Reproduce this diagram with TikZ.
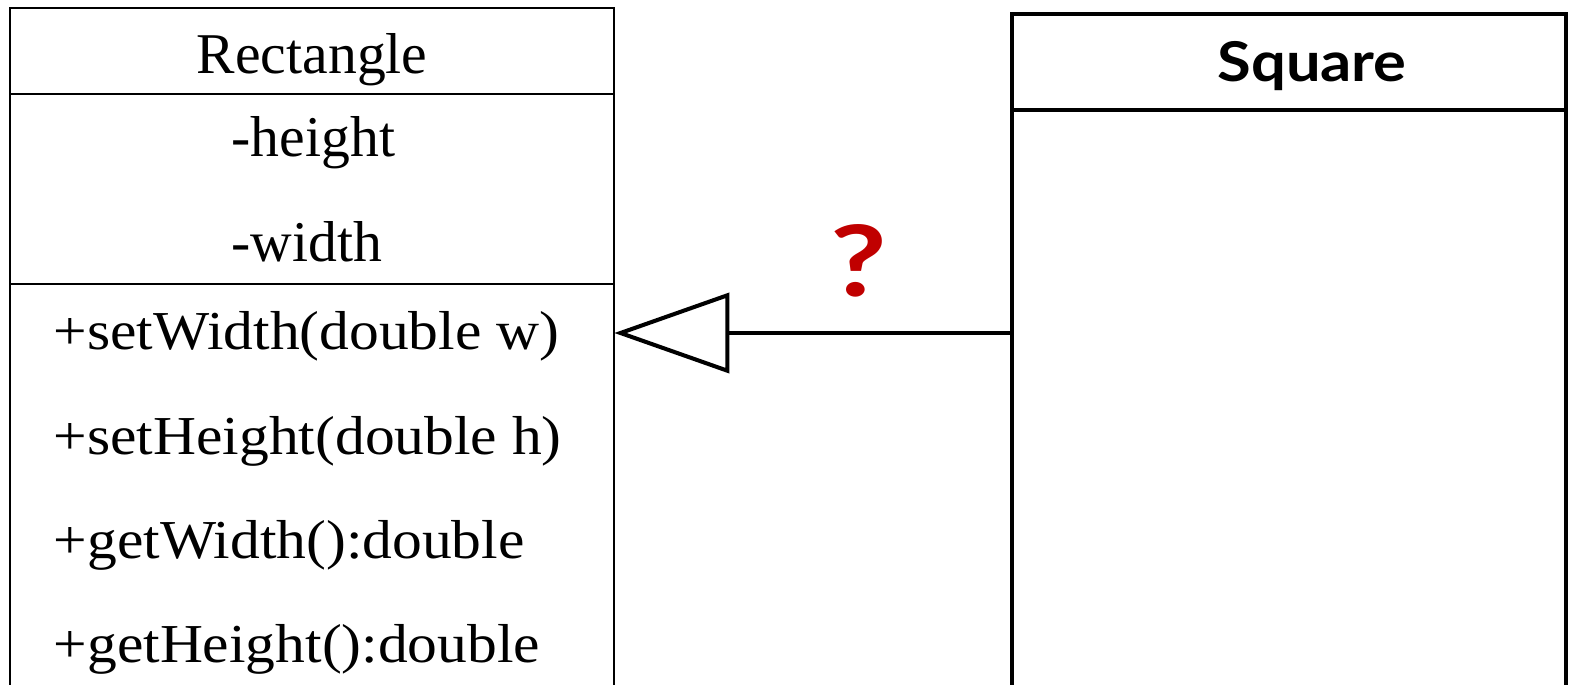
\documentclass[tikz,border=0pt]{standalone}
\usepackage{fontspec}
\setmainfont{Liberation Serif}
\newfontfamily\methfont[FakeStretch=1.085]{Liberation Serif}
\newfontfamily\labelfont[FakeStretch=1.12]{Lato}
\newfontfamily\askfont[FakeStretch=1.25]{Lato}
\usetikzlibrary{arrows.meta}
\definecolor{qred}{HTML}{C00000}
\tikzset{
  thinpart/.style={draw, line width=0.6pt, inner sep=0pt, outer sep=0pt, anchor=north west},
  thickpart/.style={draw, line width=1.15pt, inner sep=0pt, outer sep=0pt, anchor=north west},
  member/.style={anchor=base west, inner sep=0pt, font=\fontsize{16.4}{20}\selectfont},
  method/.style={anchor=base west, inner sep=0pt, font=\methfont\fontsize{15.6}{19}\selectfont},
  inherit/.style={line width=1.15pt, -{Triangle[open, length=1.15cm, width=0.8cm, fill=white]}},
}

\begin{document}
\begin{tikzpicture}[x=0.01cm, y=-0.01cm]
\useasboundingbox (0,0) rectangle (1578,685);
\clip (0,0) rectangle (1578,685);
% the base class
\node[thinpart, minimum width=6.04cm, minimum height=0.86cm, text height=0.44cm, text depth=0cm,
      font=\fontsize{16.4}{20}\selectfont] (recthead) at (10,8) {Rectangle};
\node[thinpart, minimum width=6.04cm, minimum height=1.9cm] (rectattr) at (recthead.south west) {};
\node[thinpart, minimum width=6.04cm, minimum height=4.5cm] (rectmeth) at (rectattr.south west) {};
\node[member] (height) at (231,157) {-height};
\node[member] (width) at (231,262) {-width};
\foreach \txt [count=\i] in {+setWidth(double w), +setHeight(double h), +getWidth():double, +getHeight():double}{
   \node[method] (meth\i) at (53,246+104*\i) {\txt};
}
% the subclass
\node[thickpart, minimum width=5.54cm, minimum height=0.96cm] (squarehead) at (1012,14) {};
\node[thickpart, minimum width=5.54cm, minimum height=6.5cm] (squarebody) at (squarehead.south west) {};
\node[anchor=base, inner sep=0pt, font=\labelfont\bfseries\fontsize{15.6}{19}\selectfont] (squarename) at (1312,82) {Square};
\coordinate (link) at (0,333);
\draw[inherit] (squarebody.west |- link) -- (rectmeth.east |- link);
\node[anchor=base, inner sep=0pt, text=qred, font=\askfont\bfseries\fontsize{28}{32}\selectfont] (ask) at (859,297) {?};
\end{tikzpicture}
\end{document}
